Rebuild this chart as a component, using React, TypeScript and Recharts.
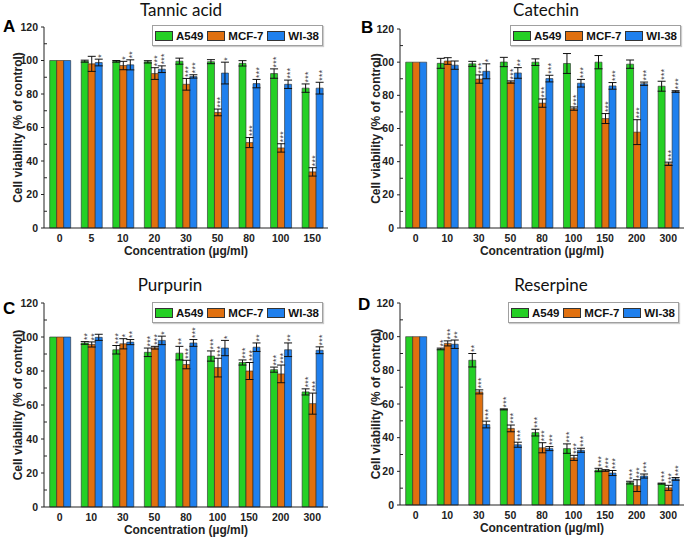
import React from 'react';
import { BarChart, Bar, XAxis, YAxis, ErrorBar, Legend, LabelList } from 'recharts';

// series
const seriesNames = ['A549', 'MCF-7', 'WI-38'];
const seriesColors = ['#25d025', '#e0700f', '#1f80ee'];
const yTicks = [0, 10, 20, 30, 40, 50, 60, 70, 80, 90, 100, 110, 120];

// A - Tannic acid
const tannicConc = ['0', '5', '10', '20', '30', '50', '80', '100', '150'];
const tannicA549 = [100, 99.6, 99.5, 99.2, 99.6, 99.3, 98.3, 92.2, 83.5];
const tannicA549Err = [0, 0.6, 0.5, 0.7, 1.8, 1.2, 1.6, 2.8, 2.5];
const tannicA549Sig = ['', '', '', '', '', '', '', '***', '***'];
const tannicMcf7 = [100, 98, 97, 92.2, 85.8, 69, 51, 47.8, 33.5];
const tannicMcf7Err = [0, 4.5, 2.5, 3.5, 3.5, 2, 3, 2.5, 2.5];
const tannicMcf7Sig = ['', '', '*', '***', '***', '***', '***', '***', '***'];
const tannicWi38 = [100, 98.8, 97.4, 94.8, 90.5, 92.5, 86.2, 85.8, 83.5];
const tannicWi38Err = [0, 2, 3, 2, 1, 6.5, 2.5, 2.5, 3.5];
const tannicWi38Sig = ['', '*', '**', '***', '***', '*', '***', '***', '***'];

// B - Catechin
const catechinConc = ['0', '10', '30', '50', '80', '100', '150', '200', '300'];
const catechinA549 = [100, 99.3, 99, 100.1, 100, 99.2, 100, 98.8, 85.5];
const catechinA549Err = [0, 3, 1.5, 2.8, 2, 6, 4, 2.5, 3];
const catechinA549Sig = ['', '', '', '', '', '', '', '', '***'];
const catechinMcf7 = [100, 100.7, 89.8, 88, 75.3, 72, 66, 57.8, 38.7];
const catechinMcf7Err = [0, 2, 2.5, 0.7, 2.5, 1, 3, 7.5, 1];
const catechinMcf7Sig = ['', '', '***', '***', '***', '***', '***', '***', '***'];
const catechinWi38 = [100, 98.2, 94.5, 93.5, 90.1, 87.3, 85.7, 87, 82.3];
const catechinWi38Err = [0, 2.5, 4.5, 3.2, 2, 2.3, 2, 1, 0.5];
const catechinWi38Sig = ['', '', '*', '**', '***', '***', '***', '***', '***'];

// C - Purpurin
const purpurinConc = ['0', '10', '30', '50', '80', '100', '150', '200', '300'];
const purpurinA549 = [100, 96.5, 92.5, 91, 90.5, 88.8, 85, 80.8, 67.7];
const purpurinA549Err = [0, 0.8, 2.5, 2.5, 4, 3, 1.5, 1.5, 1.8];
const purpurinA549Sig = ['', '**', '***', '***', '**', '***', '***', '***', '***'];
const purpurinMcf7 = [100, 95.6, 96, 93.7, 83.8, 82, 80, 78.3, 60.8];
const purpurinMcf7Err = [0, 1.5, 3, 0.8, 2.5, 5.5, 5, 5.2, 6.2];
const purpurinMcf7Sig = ['', '**', '*', '***', '***', '***', '***', '***', '***'];
const purpurinWi38 = [100, 99.8, 97, 98, 96.5, 93.5, 94, 92.5, 92.2];
const purpurinWi38Err = [0, 1.8, 1.5, 2.5, 2, 4.5, 2.5, 4, 2];
const purpurinWi38Sig = ['', '', '**', '*', '***', '*', '**', '**', '***'];

// D - Reserpine
const reserpineConc = ['0', '10', '30', '50', '80', '100', '150', '200', '300'];
const reserpineA549 = [100, 92.7, 86, 56.8, 43, 33.5, 20.8, 13.3, 12.7];
const reserpineA549Err = [0, 0.5, 4, 0.3, 2, 2.8, 1, 0.8, 0.3];
const reserpineA549Sig = ['', '**', '**', '***', '***', '***', '***', '***', '***'];
const reserpineMcf7 = [100, 96, 67.2, 45.5, 34, 28, 20.5, 11.5, 10.2];
const reserpineMcf7Err = [0, 1.5, 1.2, 2, 3, 1.5, 0.5, 3.5, 1.5];
const reserpineMcf7Sig = ['', '***', '***', '***', '***', '***', '***', '***', '***'];
const reserpineWi38 = [100, 95.5, 47.8, 35.8, 33.5, 32.5, 19, 17.2, 15.5];
const reserpineWi38Err = [0, 2.5, 2, 1.5, 1.2, 1.2, 1.5, 1.2, 0.8];
const reserpineWi38Sig = ['', '**', '***', '***', '***', '***', '***', '***', '***'];

const boldFont = '"Liberation Sans", Arial, sans-serif';
const titleFont = 'Lato, "Open Sans", sans-serif';

type Group = { vals: number[]; errs: number[]; sigs: string[] };

function buildRows(conc: string[], groups: Group[]) {
  return conc.map((c, i) => {
    const row: any = { conc: c };
    groups.forEach((g, k) => {
      row['v' + k] = g.vals[i];
      row['e' + k] = g.errs[i];
      row['s' + k] = g.sigs[i];
    });
    return row;
  });
}

// stars sit on top of the error bar, rotated
const starLabel = (g: Group) => (props: any) => {
  const vb = props.viewBox || props;
  const { x, y, width, height } = vb;
  const idx = props.index;
  const value = props.value;
  if (!value || idx == null) return null;
  const perUnit = Math.abs(height) / g.vals[idx];
  const cx = x + width / 2;
  const top = y - g.errs[idx] * perUnit - 1.5;
  return (
    <text
      x={cx}
      y={top}
      transform={`rotate(-90 ${cx} ${top})`}
      textAnchor="start"
      dy="0.6em"
      fontSize={8.5}
      letterSpacing={0.4}
      fontFamily={boldFont}
      fill="#444"
    >
      {value}
    </text>
  );
};

const renderYTick = (props: any) => {
  const { x, y, payload } = props;
  const axisX = x + 6;
  const v = payload.value;
  if (v % 20 !== 0) {
    return <line x1={axisX} x2={axisX + 3} y1={y} y2={y} stroke="#222" strokeWidth={1} />;
  }
  return (
    <g>
      <line x1={axisX - 3} x2={axisX} y1={y} y2={y} stroke="#222" strokeWidth={1} />
      <text x={x} y={y} dy={3.6} textAnchor="end" fontSize={10.5} fontWeight="bold" fontFamily={boldFont} fill="#222">
        {v}
      </text>
    </g>
  );
};

const renderLegend = () => (
  <div
    style={{
      border: '1px solid #a0a0a0',
      background: '#fff',
      height: 21,
      width: 171,
      boxSizing: 'border-box',
      display: 'flex',
      alignItems: 'center',
      justifyContent: 'space-between',
      padding: '0 3px 0 2px',
      fontFamily: boldFont,
      fontWeight: 'bold',
      fontSize: 11.5,
      color: '#111',
      whiteSpace: 'nowrap',
      boxShadow: '1px 1px 1px #ccc',
    }}
  >
    {seriesNames.map((n, i) => (
      <span key={n} style={{ display: 'flex', alignItems: 'center' }}>
        <span
          style={{
            display: 'inline-block',
            width: 16,
            height: 8,
            background: seriesColors[i],
            border: '1px solid #333',
            marginRight: 3,
          }}
        />
        {n}
      </span>
    ))}
  </div>
);

type PanelProps = {
  left: number;
  top: number;
  letter: string;
  letterPos: [number, number];
  title: string;
  titleX: number;
  titleY: number;
  conc: string[];
  groups: Group[];
  margin: { top: number; right: number; bottom: number; left: number };
  yWidth: number;
  yLabelX: number;
  legendPos: [number, number];
};

function Panel(p: PanelProps) {
  const rows = buildRows(p.conc, p.groups);
  return (
    <div style={{ position: 'absolute', left: p.left, top: p.top, width: 343, height: 270 }}>
      <div
        style={{
          position: 'absolute',
          left: p.titleX - 80,
          width: 160,
          top: p.titleY - 11,
          textAlign: 'center',
          fontFamily: titleFont,
          fontSize: 17,
          lineHeight: '22px',
          color: '#111',
        }}
      >
        {p.title}
      </div>
      <div
        style={{
          position: 'absolute',
          left: p.letterPos[0],
          top: p.letterPos[1] - 10,
          fontFamily: boldFont,
          fontWeight: 'bold',
          fontSize: 17,
          lineHeight: '20px',
          color: '#000',
        }}
      >
        {p.letter}
      </div>
      <BarChart width={343} height={270} data={rows} margin={p.margin} barCategoryGap="18%" barGap={0}>
        <XAxis
          dataKey="conc"
          height={30}
          tickLine={false}
          tickSize={4}
          tickMargin={3}
          axisLine={{ stroke: '#222', strokeWidth: 1 }}
          tick={{ fontSize: 10.5, fontWeight: 'bold', fontFamily: boldFont, fill: '#222' }}
          interval={0}
          label={{
            content: (lp: any) => {
              const vb = lp.viewBox;
              return (
                <text
                  x={vb.x + vb.width / 2}
                  y={vb.y + 27}
                  textAnchor="middle"
                  fontSize={12}
                  fontWeight="bold"
                  fontFamily={boldFont}
                  fill="#222"
                >
                  Concentration (µg/ml)
                </text>
              );
            },
          }}
        />
        <YAxis
          domain={[0, 120]}
          ticks={yTicks}
          interval={0}
          width={p.yWidth}
          tickLine={false}
          tickSize={3}
          tickMargin={3}
          axisLine={{ stroke: '#222', strokeWidth: 1 }}
          tick={renderYTick}
          label={{
            content: (lp: any) => {
              const vb = lp.viewBox;
              const cy = vb.y + vb.height / 2;
              return (
                <text
                  x={p.yLabelX}
                  y={cy}
                  transform={`rotate(-90 ${p.yLabelX} ${cy})`}
                  textAnchor="middle"
                  dy={4}
                  fontSize={12}
                  fontWeight="bold"
                  fontFamily={boldFont}
                  fill="#222"
                >
                  Cell viability (% of control)
                </text>
              );
            },
          }}
        />
        <Legend
          layout="horizontal"
          verticalAlign="middle"
          align="center"
          content={renderLegend}
          wrapperStyle={{ left: p.legendPos[0], top: p.legendPos[1], width: 171, height: 21 }}
        />
        {p.groups.map((g, k) => (
          <Bar
            key={seriesNames[k]}
            dataKey={'v' + k}
            name={seriesNames[k]}
            fill={seriesColors[k]}
            stroke="#2a2a2a"
            strokeWidth={0.6}
            isAnimationActive={false}
          >
            <ErrorBar dataKey={'e' + k} width={4} strokeWidth={1} stroke="#111" direction="y" />
            <LabelList dataKey={'s' + k} content={starLabel(g)} />
          </Bar>
        ))}
      </BarChart>
    </div>
  );
}

export default function App() {
  return (
    <div style={{ position: 'absolute', left: 0, top: 0, width: 686, height: 541, background: '#fff', overflow: 'hidden' }}>
      <Panel
        left={0}
        top={0}
        letter="A"
        letterPos={[3, 27]}
        title="Tannic acid"
        titleX={181}
        titleY={10}
        conc={tannicConc}
        groups={[
          { vals: tannicA549, errs: tannicA549Err, sigs: tannicA549Sig },
          { vals: tannicMcf7, errs: tannicMcf7Err, sigs: tannicMcf7Sig },
          { vals: tannicWi38, errs: tannicWi38Err, sigs: tannicWi38Sig },
        ]}
        margin={{ top: 27, right: 15, bottom: 12, left: 0 }}
        yWidth={44}
        yLabelX={18}
        legendPos={[152, 25]}
      />
      <Panel
        left={343}
        top={0}
        letter="B"
        letterPos={[18, 28]}
        title="Catechin"
        titleX={203}
        titleY={10}
        conc={catechinConc}
        groups={[
          { vals: catechinA549, errs: catechinA549Err, sigs: catechinA549Sig },
          { vals: catechinMcf7, errs: catechinMcf7Err, sigs: catechinMcf7Sig },
          { vals: catechinWi38, errs: catechinWi38Err, sigs: catechinWi38Sig },
        ]}
        margin={{ top: 29, right: 2, bottom: 12, left: 0 }}
        yWidth={57}
        yLabelX={33}
        legendPos={[167, 25]}
      />
      <Panel
        left={0}
        top={270}
        letter="C"
        letterPos={[3, 39]}
        title="Purpurin"
        titleX={170}
        titleY={15}
        conc={purpurinConc}
        groups={[
          { vals: purpurinA549, errs: purpurinA549Err, sigs: purpurinA549Sig },
          { vals: purpurinMcf7, errs: purpurinMcf7Err, sigs: purpurinMcf7Sig },
          { vals: purpurinWi38, errs: purpurinWi38Err, sigs: purpurinWi38Sig },
        ]}
        margin={{ top: 33, right: 15, bottom: 3, left: 0 }}
        yWidth={44}
        yLabelX={18}
        legendPos={[152, 32]}
      />
      <Panel
        left={343}
        top={270}
        letter="D"
        letterPos={[15, 35]}
        title="Reserpine"
        titleX={208}
        titleY={15}
        conc={reserpineConc}
        groups={[
          { vals: reserpineA549, errs: reserpineA549Err, sigs: reserpineA549Sig },
          { vals: reserpineMcf7, errs: reserpineMcf7Err, sigs: reserpineMcf7Sig },
          { vals: reserpineWi38, errs: reserpineWi38Err, sigs: reserpineWi38Sig },
        ]}
        margin={{ top: 33, right: 2, bottom: 5, left: 0 }}
        yWidth={57}
        yLabelX={33}
        legendPos={[165, 32]}
      />
    </div>
  );
}
